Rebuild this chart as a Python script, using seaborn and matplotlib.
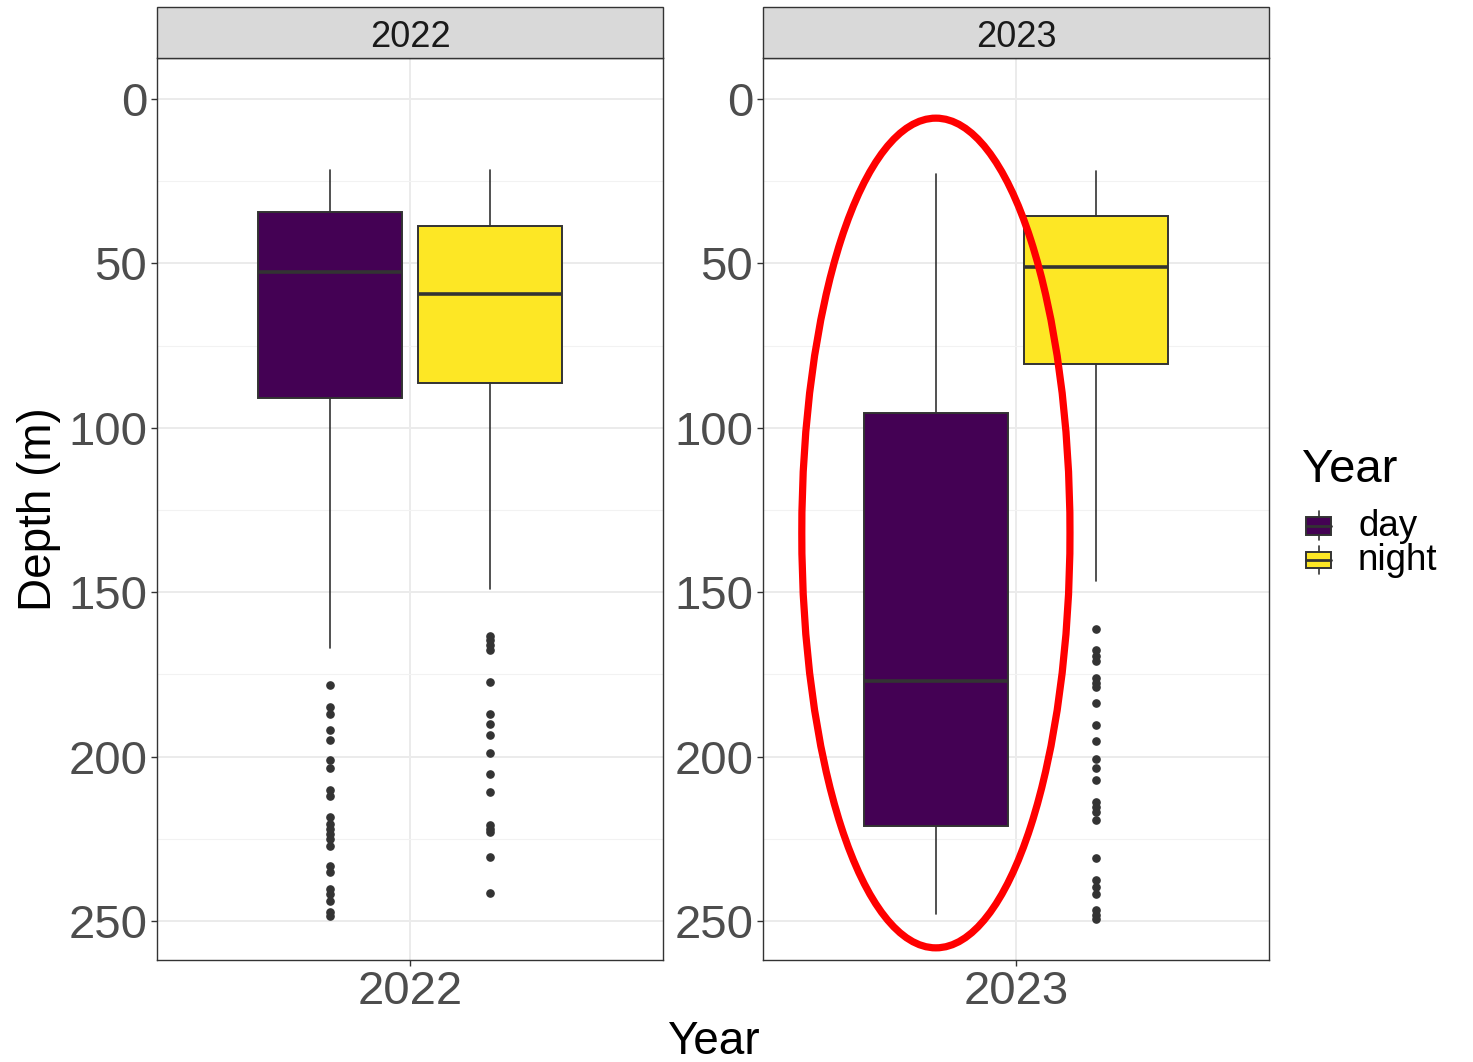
import numpy as np
import pandas as pd
import matplotlib
matplotlib.use("Agg")
import matplotlib.pyplot as plt
import seaborn as sns
from matplotlib.patches import Rectangle, Ellipse
from matplotlib.lines import Line2D

# ---------------- data ----------------
years = ["2022", "2022", "2023", "2023"]
periods = ["day", "night", "day", "night"]
whisker_top = [21.5, 21.7, 22.8, 21.9]
q1 = [34.2, 38.5, 95.6, 35.6]
median = [52.5, 59.4, 176.9, 51.0]
q3 = [90.9, 86.4, 221.0, 80.6]
whisker_bottom = [167.0, 149.0, 248.0, 146.5]

outliers_2022_day = [178.2, 185.0, 187.0, 192.0, 195.0, 201.0, 203.5, 210.3, 211.9,
                     218.4, 220.6, 222.2, 223.7, 225.2, 227.2, 233.3, 235.0,
                     240.2, 241.7, 244.0, 247.2, 248.5]
outliers_2022_night = [163.4, 164.7, 166.1, 167.7, 177.3, 187.2, 190.0, 193.3, 198.9,
                       205.2, 210.8, 220.8, 222.1, 223.1, 230.5, 241.5]
outliers_2023_day = []
outliers_2023_night = [161.3, 167.7, 169.3, 170.8, 176.0, 177.5, 179.0, 183.6, 190.4,
                       195.3, 200.9, 203.6, 207.0, 213.8, 215.3, 216.8, 219.3, 231.0,
                       237.6, 239.7, 241.7, 246.7, 248.3, 249.3]
outliers = [outliers_2022_day, outliers_2022_night, outliers_2023_day, outliers_2023_night]

stats = pd.DataFrame({"Year": years, "Period": periods, "whislo": whisker_top,
                      "q1": q1, "med": median, "q3": q3, "whishi": whisker_bottom})
stats["fliers"] = outliers

palette = {"day": "#440154", "night": "#FDE725"}
offsets = {"day": -0.19, "night": 0.19}
BOX_W = 0.34
EDGE = "#333333"

sns.set_theme(style="white")
plt.rcParams["font.family"] = ["Liberation Sans", "DejaVu Sans"]

g = sns.FacetGrid(stats, col="Year", sharey=False, sharex=False, height=6, aspect=0.6)


def draw_boxes(data, **kw):
    ax = plt.gca()
    for _, r in data.iterrows():
        st = [{"whislo": r["whislo"], "q1": r["q1"], "med": r["med"], "q3": r["q3"],
               "whishi": r["whishi"], "fliers": np.array(r["fliers"])}]
        ax.bxp(st, positions=[offsets[r["Period"]]], widths=BOX_W, patch_artist=True,
               showcaps=False, manage_ticks=False,
               boxprops=dict(facecolor=palette[r["Period"]], edgecolor=EDGE, linewidth=1.4),
               medianprops=dict(color=EDGE, linewidth=2.6, solid_capstyle="butt"),
               whiskerprops=dict(color=EDGE, linewidth=1.2),
               flierprops=dict(marker="o", markersize=5.2, markerfacecolor=EDGE,
                               markeredgecolor=EDGE, linestyle="none"),
               zorder=3)


g.map_dataframe(draw_boxes)

fig = g.figure
fig.set_size_inches(14.73, 10.62)
fig.set_dpi(100)
W, H = 1473.0, 1062.0

panel_left = [157, 763]
for ax, left, yr in zip(g.axes.flat, panel_left, ["2022", "2023"]):
    ax.set_position([left / W, (H - 960) / H, 506 / W, 902 / H])
    ax.set_xlim(-0.6, 0.6)
    ax.set_ylim(261.9, -12.5)
    ax.set_xticks([0])
    ax.set_xticklabels([yr])
    ax.set_yticks([0, 50, 100, 150, 200, 250])
    ax.set_yticks([25, 75, 125, 175, 225], minor=True)
    ax.set_title("")
    ax.set_xlabel("")
    ax.set_ylabel("")
    ax.grid(True, which="major", color="#EBEBEB", linewidth=1.4, zorder=0)
    ax.grid(True, which="minor", axis="y", color="#F2F2F2", linewidth=0.8, zorder=0)
    ax.set_axisbelow(True)
    for sp in ax.spines.values():
        sp.set_visible(True)
        sp.set_color(EDGE)
        sp.set_linewidth(1.0)
    ax.tick_params(axis="both", which="major", length=4, width=1.0, color=EDGE,
                   labelsize=34, labelcolor="#4D4D4D", pad=3, left=True, bottom=True)
    ax.tick_params(axis="y", which="minor", length=0)
    # strip
    strip = Rectangle((0, 1.0), 1, 51 / 902, transform=ax.transAxes, facecolor="#D9D9D9",
                      edgecolor=EDGE, linewidth=1.0, clip_on=False, zorder=5)
    ax.add_patch(strip)
    ax.text(0.5, 1.0 + 11 / 902, yr, transform=ax.transAxes, ha="center", va="baseline",
            fontsize=26, color="#1A1A1A", zorder=6)

# red ellipse annotation in the 2023 panel
ax2 = g.axes.flat[1]
ax2.add_patch(Ellipse((-0.19, 132.0), 0.636, 252.4, fill=False, edgecolor="#FF0000",
                      linewidth=5.2, zorder=7, clip_on=False))

# axis titles
fig.text(713.5 / W, 1 - 1042 / H, "Year", ha="center", va="center", fontsize=33, color="black")
fig.text(39 / W, 1 - 509 / H, "Depth (m)", ha="center", va="center", rotation=90,
         fontsize=33, color="black")

# legend
fig.text(1302 / W, 1 - 481.7 / H, "Year", ha="left", va="baseline", fontsize=34, color="black")
keys = [("day", 517.3, 535.0, 511.0, 540.0, 526.0),
        ("night", 551.7, 568.3, 546.0, 574.0, 560.0)]
for name, top, bot, wt, wb, md in keys:
    cx = 1318.5
    fig.add_artist(Line2D([cx / W, cx / W], [1 - wt / H, 1 - wb / H], color=EDGE,
                          linewidth=1.2, transform=fig.transFigure))
    fig.add_artist(Rectangle((1305.7 / W, 1 - bot / H), 25.3 / W, (bot - top) / H,
                             facecolor=palette[name], edgecolor=EDGE, linewidth=1.4,
                             transform=fig.transFigure, zorder=3))
    fig.add_artist(Line2D([1305.7 / W, 1331 / W], [1 - md / H, 1 - md / H], color=EDGE,
                          linewidth=2.0, transform=fig.transFigure, zorder=4))
    fig.text(1358 / W, 1 - (top + bot) / 2 / H, name, ha="left", va="center",
             fontsize=26.5, color="black")

fig.savefig("out.png", dpi=100)
